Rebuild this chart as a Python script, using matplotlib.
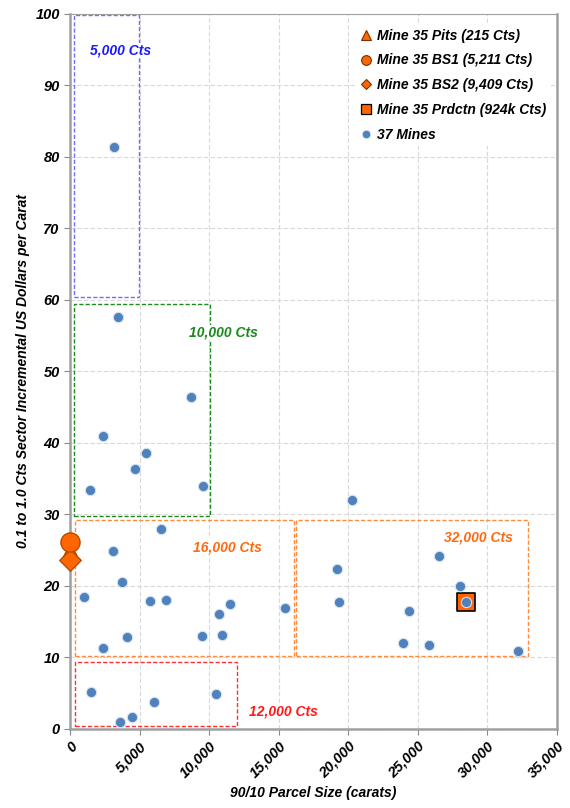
import matplotlib.pyplot as plt
from matplotlib.patches import Rectangle
from matplotlib.lines import Line2D

plt.rcParams['font.family'] = ['Liberation Sans', 'DejaVu Sans']

# 37 mines (90/10 parcel size, $/ct)
mines_x = [3140, 3450, 2330, 1430, 4690, 5480, 8670, 9550,
           6550, 3050, 3760, 1020, 5710, 6930, 10670, 11480, 2380, 4120,
           9500, 10930, 1500, 3570, 4430, 6050, 10480, 15480,
           20290, 19190, 19310, 24360, 23930, 25790, 26500, 28020, 28480, 32170]
mines_y = [81.4, 57.6, 40.9, 33.4, 36.3, 38.6, 46.4, 33.9,
           27.9, 24.8, 20.5, 18.5, 17.9, 18.0, 16.0, 17.5, 11.3, 12.9,
           13.0, 13.05, 5.2, 1.0, 1.7, 3.8, 4.9, 16.9,
           32.0, 22.3, 17.7, 16.5, 12.0, 11.7, 24.2, 20.0, 17.7, 10.9]

# Mine 35 samples
pits = (0, 24.9)
bs1 = (0, 26.1)
bs2 = (0, 23.6)
prdctn = (28480, 17.7)

# boxes: x0, x1, y0, y1, label, label pos, colour
box_x0 = [290, 300, 330, 16260, 360]
box_x1 = [4950, 10090, 16070, 32900, 11980]
box_y0 = [60.4, 29.8, 10.2, 10.2, 0.4]
box_y1 = [99.8, 59.4, 29.2, 29.2, 9.3]
box_labels = ['5,000 Cts', '10,000 Cts', '16,000 Cts', '32,000 Cts', '12,000 Cts']
box_lx = [1400, 8570, 8800, 26860, 12860]
box_ly = [94.9, 55.4, 25.4, 26.7, 2.4]
box_edge = ['#6f6fff', '#1a8a1a', '#ff8c3c', '#ff8c3c', '#ff3030']
box_text = ['#1a1aff', '#1a8a1a', '#ff6a10', '#ff6a10', '#ff1a1a']

fig = plt.figure(figsize=(5.70, 8.08), dpi=100)
ax = fig.add_axes([0.123, 0.098, 0.854, 0.885])

for x0, x1, y0, y1, lab, lx, ly, ec, tc in zip(box_x0, box_x1, box_y0, box_y1,
                                               box_labels, box_lx, box_ly, box_edge, box_text):
    ax.add_patch(Rectangle((x0, y0), x1 - x0, y1 - y0, fill=False, ec=ec,
                           lw=1.0, ls=(0, (3, 1.5)), zorder=2))
    ax.text(lx, ly, lab, color=tc, fontsize=10, fontweight='bold',
            fontstyle='italic', va='center', ha='left', zorder=3,
            bbox=dict(fc='white', ec='none', pad=0.5))

ax.scatter(*prdctn, marker='s', s=150, c='#ff6600', edgecolors='black', lw=1.2, zorder=4)
ax.scatter(mines_x, mines_y, s=55, c='#4f81bd', edgecolors='#d6e2f0', lw=0.8, zorder=5)
ax.scatter(*pits, marker='^', s=150, c='#ff6600', edgecolors='#b84a00', lw=1,
           zorder=6, clip_on=False)
ax.scatter(*bs2, marker='D', s=120, c='#ff6600', edgecolors='#b84a00', lw=1,
           zorder=6, clip_on=False)
ax.scatter(*bs1, marker='o', s=190, c='#ff6600', edgecolors='#b84a00', lw=1,
           zorder=7, clip_on=False)

ax.set_xlim(0, 35000)
ax.set_ylim(0, 100)
ax.set_xticks(range(0, 35001, 5000))
ax.set_xticklabels(['0', '5,000', '10,000', '15,000', '20,000', '25,000', '30,000', '35,000'],
                   rotation=45, ha='right', rotation_mode='anchor')
ax.set_yticks(range(0, 101, 10))
for lab in ax.get_xticklabels() + ax.get_yticklabels():
    lab.set_fontweight('bold')
    lab.set_fontstyle('italic')
    lab.set_fontsize(10.5)
ax.tick_params(colors='black', length=4, color='#888888')
ax.grid(True, color='#d8d8d8', ls=(0, (4, 2)), lw=0.8)
ax.set_axisbelow(True)
for sp in ax.spines.values():
    sp.set_color('#a0a0a0')
ax.spines['left'].set_linewidth(1.8)
ax.spines['bottom'].set_linewidth(1.8)
ax.spines['right'].set_linewidth(1.8)

ax.set_xlabel('90/10 Parcel Size (carats)', fontsize=10, fontweight='bold', fontstyle='italic')
ax.set_ylabel('0.1 to 1.0 Cts Sector Incremental US Dollars per Carat', fontsize=10,
              fontweight='bold', fontstyle='italic')

handles = [
    Line2D([], [], ls='none', marker='^', ms=7, mfc='#ff6600', mec='#7a3000', mew=0.8),
    Line2D([], [], ls='none', marker='o', ms=7, mfc='#ff6600', mec='#7a3000', mew=0.8),
    Line2D([], [], ls='none', marker='D', ms=5.5, mfc='#ff6600', mec='#7a3000', mew=0.8),
    Line2D([], [], ls='none', marker='s', ms=7, mfc='#ff6600', mec='black', mew=0.9),
    Line2D([], [], ls='none', marker='o', ms=6, mfc='#4f81bd', mec='#d6e2f0', mew=0.6),
]
labels = ['Mine 35 Pits (215 Cts)', 'Mine 35 BS1 (5,211 Cts)', 'Mine 35 BS2 (9,409 Cts)',
          'Mine 35 Prdctn (924k Cts)', '37 Mines']
leg = ax.legend(handles, labels, loc='upper left', frameon=True,
                handlelength=1.0, handletextpad=0.3, labelspacing=0.78, borderpad=0.3,
                prop=dict(weight='bold', style='italic', size=10),
                bbox_to_anchor=(0.585, 0.985), borderaxespad=0.0)
leg.get_frame().set_edgecolor('none')
leg.get_frame().set_facecolor('white')
leg.get_frame().set_alpha(1)

fig.savefig('out.png', dpi=100)
